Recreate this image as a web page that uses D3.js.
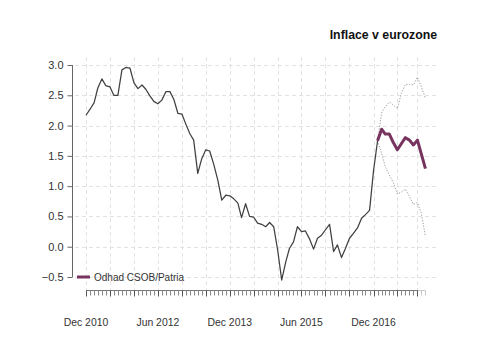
<!DOCTYPE html>
<html>
<head>
<meta charset="utf-8">
<script src="https://cdn.jsdelivr.net/npm/d3@7"></script>
<style>
  html, body { margin: 0; padding: 0; background: #fff; }
  svg { display: block; font-family: "Liberation Sans", Arial, sans-serif; }
</style>
</head>
<body>
<svg id="chart" width="500" height="339"></svg>
<script>
// Eurozone HICP inflation, y/y %, monthly
const actualStart = "2010-12";
const inflation = [
  2.17,
  2.27, 2.38, 2.62, 2.77, 2.66, 2.64, 2.50, 2.50, 2.92, 2.96, 2.95, 2.71,
  2.61, 2.67, 2.60, 2.49, 2.40, 2.36, 2.42, 2.56, 2.56, 2.43, 2.20, 2.19,
  2.02, 1.86, 1.76, 1.21, 1.45, 1.60, 1.58, 1.36, 1.10, 0.77, 0.85, 0.84,
  0.79, 0.72, 0.48, 0.71, 0.50, 0.49, 0.39, 0.37, 0.33, 0.40, 0.33, -0.05,
  -0.55, -0.25, -0.03, 0.08, 0.33, 0.25, 0.26, 0.13, -0.04, 0.14, 0.19, 0.28,
  0.37, -0.08, 0.03, -0.18, -0.03, 0.14, 0.22, 0.31, 0.47, 0.53, 0.60, 1.25,
  1.75
];

// CSOB/Patria forecast with upper and lower bounds
const forecastStart = "2017-01";
const forecast  = [1.75, 1.94, 1.86, 1.86, 1.72, 1.60, 1.70, 1.80, 1.76, 1.68, 1.76, 1.53, 1.29];
const upperBand = [1.75, 2.21, 2.31, 2.39, 2.34, 2.28, 2.53, 2.68, 2.68, 2.67, 2.80, 2.64, 2.45];
const lowerBand = [1.75, 1.54, 1.32, 1.18, 1.06, 0.87, 0.90, 0.95, 0.83, 0.70, 0.73, 0.55, 0.17];

const yTicks = [-0.5, 0.0, 0.5, 1.0, 1.5, 2.0, 2.5, 3.0];
const majorTicks = ["2010-12", "2011-06", "2011-12", "2012-06", "2012-12", "2013-06", "2013-12",
                    "2014-06", "2014-12", "2015-06", "2015-12", "2016-06", "2016-12", "2017-06", "2017-11"];
const labelTicks = ["2010-12", "2012-06", "2013-12", "2015-06", "2016-12"];
const axisEnd = "2018-01";
const title = "Inflace v eurozone";
const legendLabel = "Odhad CSOB/Patria";

const parse = d3.timeParse("%Y-%m");
const fmt = d3.timeFormat("%b %Y");

function series(start, values) {
  const s = parse(start);
  return values.map((v, i) => ({ date: d3.timeMonth.offset(s, i), value: v }));
}

const actual = series(actualStart, inflation);
const fc = series(forecastStart, forecast);
const up = series(forecastStart, upperBand);
const lo = series(forecastStart, lowerBand);

const svg = d3.select("#chart");

const x = d3.scaleTime()
  .domain([parse("2010-12"), parse("2016-12")])
  .range([86, 373.5]);
const y = d3.scaleLinear()
  .domain([-0.5, 3.0])
  .range([277, 65]);

const xStart = parse(actualStart);
const xEnd = parse(axisEnd);
const xLastMajor = parse(majorTicks[majorTicks.length - 1]);

// grid
const grid = svg.append("g").attr("stroke", "#e2e2e2").attr("stroke-width", 1)
  .attr("stroke-dasharray", "4,3").attr("fill", "none");
grid.selectAll("line.h").data(yTicks).join("line")
  .attr("class", "h")
  .attr("x1", 75).attr("x2", 438)
  .attr("y1", d => Math.round(y(d)) + 0.5).attr("y2", d => Math.round(y(d)) + 0.5);
grid.selectAll("line.v").data(majorTicks.map(parse)).join("line")
  .attr("class", "v")
  .attr("x1", d => Math.round(x(d)) + 0.5).attr("x2", d => Math.round(x(d)) + 0.5)
  .attr("y1", 57).attr("y2", 290);

// y axis
const yAxis = svg.append("g")
  .attr("transform", "translate(72.5,0)")
  .call(d3.axisLeft(y).tickValues(yTicks).tickFormat(d3.format(".1f")).tickSize(5).tickPadding(4));
yAxis.select(".domain").attr("stroke", "#666").attr("d", `M0,${y(3.0)}V${y(-0.5)}`);
yAxis.selectAll(".tick line").attr("stroke", "#666");
yAxis.selectAll(".tick text").attr("fill", "#333").style("font-size", "11px")
  .style("font-family", "'Liberation Sans', Arial, sans-serif");

// x axis: monthly minor ticks, half-year major ticks
const xAxisG = svg.append("g").attr("transform", "translate(0,290.5)");
const months = d3.timeMonth.range(xStart, d3.timeMonth.offset(xEnd, 1));
xAxisG.append("line")
  .attr("x1", x(xStart)).attr("x2", x(xLastMajor))
  .attr("stroke", "#777");
xAxisG.append("line")
  .attr("x1", x(xLastMajor)).attr("x2", x(xEnd))
  .attr("stroke", "#c8c8c8");
xAxisG.selectAll("line.minor").data(months).join("line")
  .attr("class", "minor")
  .attr("x1", d => Math.round(x(d)) + 0.5).attr("x2", d => Math.round(x(d)) + 0.5)
  .attr("y1", 0).attr("y2", 5)
  .attr("stroke", d => d > xLastMajor ? "#c8c8c8" : "#8a8a8a");
xAxisG.selectAll("line.major").data(majorTicks.map(parse)).join("line")
  .attr("class", "major")
  .attr("x1", d => Math.round(x(d)) + 0.5).attr("x2", d => Math.round(x(d)) + 0.5)
  .attr("y1", 0).attr("y2", 6)
  .attr("stroke", "#555");
svg.append("g").selectAll("text").data(labelTicks.map(parse)).join("text")
  .attr("x", d => x(d)).attr("y", 326)
  .attr("text-anchor", "middle")
  .attr("fill", "#333").style("font-size", "10.4px")
  .text(d => fmt(d));

// lines
const line = d3.line().x(d => x(d.date)).y(d => y(d.value));

svg.append("path").datum(up).attr("d", line)
  .attr("fill", "none").attr("stroke", "#9a9a9a").attr("stroke-width", 1)
  .attr("stroke-dasharray", "1.2,1.6");
svg.append("path").datum(lo).attr("d", line)
  .attr("fill", "none").attr("stroke", "#9a9a9a").attr("stroke-width", 1)
  .attr("stroke-dasharray", "1.2,1.6");
svg.append("path").datum(actual).attr("d", line)
  .attr("fill", "none").attr("stroke", "#404040").attr("stroke-width", 1.25)
  .attr("stroke-linejoin", "round");
svg.append("path").datum(fc).attr("d", line)
  .attr("fill", "none").attr("stroke", "#76345f").attr("stroke-width", 3)
  .attr("stroke-linejoin", "round");

// legend
svg.append("line")
  .attr("x1", 77).attr("x2", 90).attr("y1", 277).attr("y2", 277)
  .attr("stroke", "#76345f").attr("stroke-width", 3);
svg.append("text")
  .attr("x", 94).attr("y", 281)
  .attr("fill", "#333").style("font-size", "10px")
  .text(legendLabel);

// title
svg.append("text")
  .attr("x", 437).attr("y", 39)
  .attr("text-anchor", "end")
  .attr("fill", "#111").style("font-size", "12.3px").style("font-weight", "bold")
  .text(title);
</script>
</body>
</html>
